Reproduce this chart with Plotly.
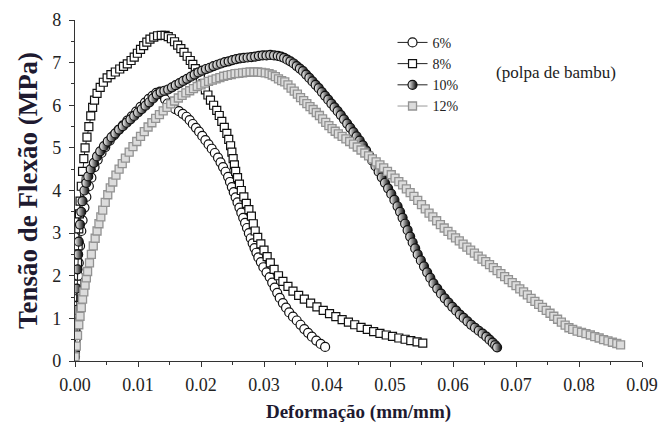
import plotly.graph_objects as go

# 6% polpa de bambu (open circles)
x6 = [0, 0.0001, 0.0002, 0.0003, 0.0004, 0.0005, 0.0006, 0.0008, 0.001, 0.0012, 0.0015, 0.0018,
      0.0022, 0.0026, 0.0031, 0.0036, 0.0042, 0.0048, 0.0055, 0.0062, 0.0069, 0.0076, 0.0083, 0.009,
      0.0097, 0.0104, 0.0111, 0.0117, 0.0123, 0.0129, 0.0135, 0.0139, 0.0143, 0.0147, 0.0153, 0.0159,
      0.0165, 0.0171, 0.0177, 0.0182, 0.0187, 0.0192, 0.0197, 0.0202, 0.0207, 0.0212, 0.0217, 0.0222,
      0.0227, 0.0231, 0.0235, 0.0239, 0.0243, 0.0246, 0.0249, 0.0252, 0.0255, 0.0258, 0.0261, 0.0264,
      0.0267, 0.027, 0.0273, 0.0276, 0.0279, 0.0282, 0.0285, 0.0288, 0.0291, 0.0295, 0.0299, 0.0304,
      0.0309, 0.0313, 0.0317, 0.0321, 0.0325, 0.033, 0.0335, 0.034, 0.0346, 0.0352, 0.0358, 0.0364,
      0.037, 0.0376, 0.0383, 0.039, 0.0397]
y6 = [0.1, 0.5, 0.9, 1.3, 1.65, 2.0, 2.3, 2.7, 3.05, 3.3, 3.6, 3.85,
      4.1, 4.3, 4.55, 4.72, 4.88, 5.02, 5.17, 5.3, 5.42, 5.53, 5.64, 5.74,
      5.85, 5.96, 6.06, 6.15, 6.22, 6.29, 6.32, 6.25, 6.14, 6.04, 5.96, 5.91,
      5.86, 5.8, 5.73, 5.65, 5.56, 5.47, 5.38, 5.28, 5.18, 5.08, 4.98, 4.88,
      4.77, 4.66, 4.55, 4.44, 4.32, 4.2, 4.08, 3.96, 3.84, 3.72, 3.6, 3.48,
      3.36, 3.24, 3.12, 3.0, 2.88, 2.76, 2.65, 2.54, 2.43, 2.32, 2.2, 2.08,
      1.97, 1.84, 1.72, 1.6, 1.48, 1.36, 1.25, 1.14, 1.04, 0.95, 0.85, 0.75,
      0.66, 0.57, 0.48, 0.4, 0.33]

# 8% (open squares)
x8 = [0, 0.0001, 0.0002, 0.0003, 0.0004, 0.0005, 0.0006, 0.0007, 0.0008, 0.001, 0.0012, 0.0014,
      0.0016, 0.0019, 0.0022, 0.0025, 0.0028, 0.0031, 0.0035, 0.004, 0.0045, 0.0051, 0.0057, 0.0064,
      0.0071, 0.0077, 0.0083, 0.0089, 0.0094, 0.0099, 0.0104, 0.0109, 0.0114, 0.0119, 0.0125, 0.0131,
      0.0137, 0.0143, 0.0148, 0.0153, 0.0158, 0.0163, 0.0168, 0.0173, 0.0178, 0.0183, 0.0187, 0.0191,
      0.0195, 0.0199, 0.0203, 0.0207, 0.0211, 0.0215, 0.022, 0.0225, 0.0229, 0.0233, 0.0237, 0.0241,
      0.0244, 0.0247, 0.0249, 0.0251, 0.0253, 0.0255, 0.0258, 0.0261, 0.0264, 0.0268, 0.0272, 0.0276,
      0.028, 0.0283, 0.0286, 0.029, 0.0295, 0.03, 0.0305, 0.031, 0.0316, 0.0323, 0.033, 0.0338,
      0.0346, 0.0355, 0.0364, 0.0374, 0.0384, 0.0394, 0.0404, 0.0414, 0.0424, 0.0434, 0.0444, 0.0454,
      0.0464, 0.0474, 0.0484, 0.0494, 0.0504, 0.0514, 0.0524, 0.0533, 0.0543, 0.0552]
y8 = [0.3, 0.8, 1.3, 1.8, 2.3, 2.7, 3.1, 3.45, 3.75, 4.1, 4.45, 4.75,
      5.0, 5.25, 5.5, 5.75, 5.95, 6.12, 6.28, 6.42, 6.54, 6.64, 6.72, 6.78,
      6.85, 6.91, 6.97, 7.05, 7.13, 7.22, 7.31, 7.4, 7.48, 7.55, 7.6, 7.63,
      7.64, 7.64, 7.61, 7.56, 7.49, 7.41, 7.33, 7.24, 7.15, 7.05, 6.96, 6.86,
      6.76, 6.64, 6.5, 6.36, 6.24, 6.12, 6.0, 5.88, 5.76, 5.62, 5.48, 5.34,
      5.2, 5.05, 4.9, 4.75, 4.6, 4.45, 4.3, 4.15, 4.0, 3.85, 3.7, 3.55,
      3.4, 3.22, 3.05, 2.9, 2.75, 2.6, 2.45, 2.3, 2.15, 2.0, 1.87, 1.75,
      1.64, 1.54, 1.45, 1.36, 1.27, 1.19, 1.11, 1.04, 0.97, 0.91, 0.85, 0.79,
      0.74, 0.69, 0.65, 0.61, 0.58, 0.54, 0.51, 0.48, 0.45, 0.42]

# 10% (half-filled circles)
x10 = [0, 0.0001, 0.0002, 0.0003, 0.0004, 0.0005, 0.0006, 0.0008, 0.001, 0.0012, 0.0015, 0.0018,
       0.0021, 0.0025, 0.003, 0.0035, 0.004, 0.0046, 0.0052, 0.0058, 0.0064, 0.007, 0.0076, 0.0082,
       0.0088, 0.0094, 0.01, 0.0106, 0.0112, 0.0118, 0.0124, 0.013, 0.0136, 0.0142, 0.0148, 0.0154,
       0.016, 0.0166, 0.0172, 0.0178, 0.0184, 0.019, 0.0196, 0.0202, 0.0208, 0.0214, 0.022, 0.0226,
       0.0232, 0.0238, 0.0244, 0.025, 0.0256, 0.0262, 0.0268, 0.0274, 0.028, 0.0286, 0.0292, 0.0298,
       0.0304, 0.031, 0.0316, 0.0322, 0.0327, 0.0332, 0.0337, 0.0342, 0.0347, 0.0352, 0.0357, 0.0362,
       0.0367, 0.0372, 0.0377, 0.0382, 0.0387, 0.0392, 0.0397, 0.0402, 0.0407, 0.0412, 0.0417, 0.0422,
       0.0427, 0.0432, 0.0437, 0.0442, 0.0447, 0.0452, 0.0457, 0.0462, 0.0467, 0.0472, 0.0477, 0.0482,
       0.0487, 0.0492, 0.0497, 0.0502, 0.0507, 0.0512, 0.0516, 0.052, 0.0524, 0.0528, 0.0532, 0.0536,
       0.054, 0.0544, 0.0549, 0.0554, 0.0559, 0.0564, 0.0569, 0.0575, 0.0581, 0.0587, 0.0593, 0.0599,
       0.0605, 0.0611, 0.0617, 0.0623, 0.0629, 0.0635, 0.0641, 0.0647, 0.0653, 0.0658, 0.0663, 0.0667,
       0.067]
y10 = [0.2, 0.7, 1.2, 1.7, 2.15, 2.5, 2.8, 3.2, 3.5, 3.75, 4.0, 4.18,
       4.33, 4.5, 4.65, 4.8, 4.92, 5.04, 5.15, 5.25, 5.34, 5.43, 5.51, 5.59,
       5.67, 5.75, 5.83, 5.91, 5.99, 6.07, 6.16, 6.25, 6.31, 6.34, 6.37, 6.42,
       6.47, 6.52, 6.57, 6.62, 6.67, 6.72, 6.77, 6.81, 6.85, 6.88, 6.92, 6.95,
       6.98, 7.01, 7.03, 7.06, 7.08, 7.1, 7.11, 7.12, 7.13, 7.14, 7.16, 7.17,
       7.17, 7.18, 7.17, 7.16, 7.14, 7.11, 7.07, 7.03, 6.98, 6.92, 6.86, 6.8,
       6.72, 6.64, 6.56, 6.48, 6.4, 6.31, 6.22, 6.13, 6.04, 5.95, 5.86, 5.77,
       5.67, 5.57, 5.47, 5.37, 5.27, 5.17, 5.06, 4.94, 4.82, 4.7, 4.57, 4.44,
       4.31, 4.18, 4.05, 3.92, 3.78, 3.63, 3.5, 3.36, 3.22, 3.07, 2.92, 2.78,
       2.64, 2.5, 2.36, 2.22, 2.08, 1.95, 1.82, 1.7, 1.58, 1.47, 1.37, 1.27,
       1.18, 1.09, 1.01, 0.93, 0.85, 0.78, 0.71, 0.64, 0.57, 0.5, 0.43, 0.37,
       0.32]

# 12% (gray squares)
x12 = [0, 0.0002, 0.0004, 0.0006, 0.0008, 0.001, 0.0012, 0.0014, 0.0016, 0.0018, 0.002, 0.0023,
       0.0026, 0.0029, 0.0032, 0.0035, 0.0038, 0.0041, 0.0044, 0.0048, 0.0052, 0.0056, 0.006, 0.0065,
       0.007, 0.0075, 0.008, 0.0086, 0.0092, 0.0098, 0.0104, 0.011, 0.0116, 0.0122, 0.0128, 0.0134,
       0.014, 0.0146, 0.0152, 0.0158, 0.0164, 0.017, 0.0176, 0.0182, 0.0188, 0.0194, 0.02, 0.0206,
       0.0212, 0.0218, 0.0224, 0.023, 0.0236, 0.0242, 0.0248, 0.0254, 0.026, 0.0266, 0.0272, 0.0278,
       0.0284, 0.029, 0.0296, 0.0302, 0.0308, 0.0313, 0.0318, 0.0323, 0.0328, 0.0333, 0.0338, 0.0343,
       0.0348, 0.0353, 0.0358, 0.0363, 0.0368, 0.0373, 0.0378, 0.0383, 0.0388, 0.0393, 0.0398, 0.0403,
       0.0408, 0.0413, 0.0418, 0.0424, 0.043, 0.0436, 0.0442, 0.0448, 0.0454, 0.046, 0.0466, 0.0472,
       0.0478, 0.0484, 0.049, 0.0496, 0.0502, 0.0508, 0.0514, 0.052, 0.0526, 0.0532, 0.0538, 0.0544,
       0.055, 0.0556, 0.0562, 0.0568, 0.0574, 0.058, 0.0586, 0.0592, 0.0598, 0.0604, 0.061, 0.0616,
       0.0622, 0.0628, 0.0634, 0.064, 0.0646, 0.0652, 0.0658, 0.0664, 0.067, 0.0676, 0.0682, 0.0688,
       0.0694, 0.07, 0.0706, 0.0712, 0.0718, 0.0724, 0.073, 0.0736, 0.0742, 0.0748, 0.0754, 0.076,
       0.0766, 0.0772, 0.0778, 0.0784, 0.079, 0.0797, 0.0804, 0.0811, 0.0818, 0.0825, 0.0832, 0.0839,
       0.0846, 0.0853, 0.086, 0.0866]
y12 = [0.1, 0.35, 0.6, 0.85, 1.05, 1.25, 1.45, 1.62, 1.78, 1.95, 2.1, 2.3,
       2.5, 2.7, 2.88, 3.05, 3.22, 3.38, 3.54, 3.72, 3.9, 4.06, 4.2, 4.36,
       4.5, 4.63, 4.76, 4.9, 5.03, 5.15, 5.27, 5.38, 5.49, 5.59, 5.69, 5.78,
       5.87, 5.95, 6.03, 6.1, 6.17, 6.23, 6.29, 6.34, 6.39, 6.44, 6.48, 6.52,
       6.56, 6.59, 6.62, 6.65, 6.68, 6.7, 6.72, 6.74, 6.75, 6.76, 6.77, 6.78,
       6.78, 6.78, 6.77, 6.76, 6.74, 6.71, 6.67, 6.62, 6.58, 6.55, 6.48, 6.4,
       6.33, 6.26, 6.18, 6.11, 6.04, 5.97, 5.9, 5.83, 5.76, 5.68, 5.6, 5.52,
       5.45, 5.39, 5.33, 5.27, 5.21, 5.15, 5.09, 5.02, 4.95, 4.88, 4.81, 4.74,
       4.67, 4.6, 4.53, 4.45, 4.37, 4.29, 4.21, 4.13, 4.04, 3.95, 3.86, 3.77,
       3.67, 3.57, 3.47, 3.38, 3.29, 3.2, 3.12, 3.04, 2.96, 2.89, 2.82, 2.74,
       2.67, 2.6, 2.53, 2.46, 2.39, 2.33, 2.26, 2.19, 2.12, 2.05, 1.98, 1.91,
       1.84, 1.77, 1.69, 1.62, 1.55, 1.47, 1.4, 1.33, 1.26, 1.19, 1.12, 1.05,
       0.98, 0.91, 0.84, 0.78, 0.74, 0.7, 0.67, 0.64, 0.61, 0.57, 0.54, 0.5,
       0.47, 0.44, 0.41, 0.38]

x_ticks = [0.00, 0.01, 0.02, 0.03, 0.04, 0.05, 0.06, 0.07, 0.08, 0.09]
y_ticks = [0, 1, 2, 3, 4, 5, 6, 7, 8]

SERIF = "Liberation Serif, Times New Roman, serif"

fig = go.Figure()
fig.add_trace(go.Scatter(
    x=x6, y=y6, mode="lines+markers", name="6%",
    line=dict(color="#222", width=1),
    marker=dict(symbol="circle", size=9, color="white", line=dict(color="#111", width=1.2))))
fig.add_trace(go.Scatter(
    x=x8, y=y8, mode="lines+markers", name="8%",
    line=dict(color="#222", width=1),
    marker=dict(symbol="square", size=8, color="white", line=dict(color="#111", width=1.2))))
fig.add_trace(go.Scatter(
    x=x10, y=y10, mode="lines+markers", name="10%",
    line=dict(color="#222", width=1),
    marker=dict(symbol="circle", size=9, color="white",
                gradient=dict(type="horizontal", color="black"),
                line=dict(color="#111", width=1.2))))
fig.add_trace(go.Scatter(
    x=x12, y=y12, mode="lines+markers", name="12%",
    line=dict(color="#999", width=1),
    marker=dict(symbol="square", size=8, color="#dcdcdc", line=dict(color="#939393", width=1.3))))

fig.add_annotation(x=0.848, y=0.847, xref="paper", yref="paper", xanchor="center", yanchor="middle",
                   text="(polpa de bambu)", showarrow=False,
                   font=dict(family=SERIF, size=17, color="#222"))

fig.update_layout(
    width=662, height=428,
    margin=dict(l=75, r=20, t=20, b=67),
    paper_bgcolor="white", plot_bgcolor="white",
    font=dict(family=SERIF, color="#222"),
    legend=dict(x=0.56, y=0.98, xanchor="left", yanchor="top",
                bgcolor="rgba(0,0,0,0)", itemwidth=30, tracegroupgap=0,
                font=dict(family=SERIF, size=14, color="#222")),
    xaxis=dict(range=[0, 0.09], tickvals=x_ticks, tickformat=".2f", automargin=False,
               showgrid=False, zeroline=False, showline=True, linecolor="#333", linewidth=1.2,
               ticks="outside", ticklen=5, tickcolor="#333", tickwidth=1.2,
               ticklabelstandoff=2,
               minor=dict(dtick=0.005, ticks="outside", ticklen=3, tickcolor="#333"),
               tickfont=dict(family=SERIF, size=18, color="#222"),
               title=dict(text="<b>Deformação (mm/mm)</b>", standoff=10,
                          font=dict(family=SERIF, size=19, color="#1e1a30"))),
    yaxis=dict(range=[0, 8], tickvals=y_ticks, automargin=False,
               showgrid=False, zeroline=False, showline=True, linecolor="#333", linewidth=1.2,
               ticks="outside", ticklen=5, tickcolor="#333", tickwidth=1.2,
               ticklabelstandoff=4,
               minor=dict(dtick=0.5, ticks="outside", ticklen=3, tickcolor="#333"),
               tickfont=dict(family=SERIF, size=18, color="#222"),
               title=dict(text="<b>Tensão de Flexão (MPa)</b>", standoff=6,
                          font=dict(family=SERIF, size=27, color="#1e1a30"))),
)

fig.write_html("out.html")
